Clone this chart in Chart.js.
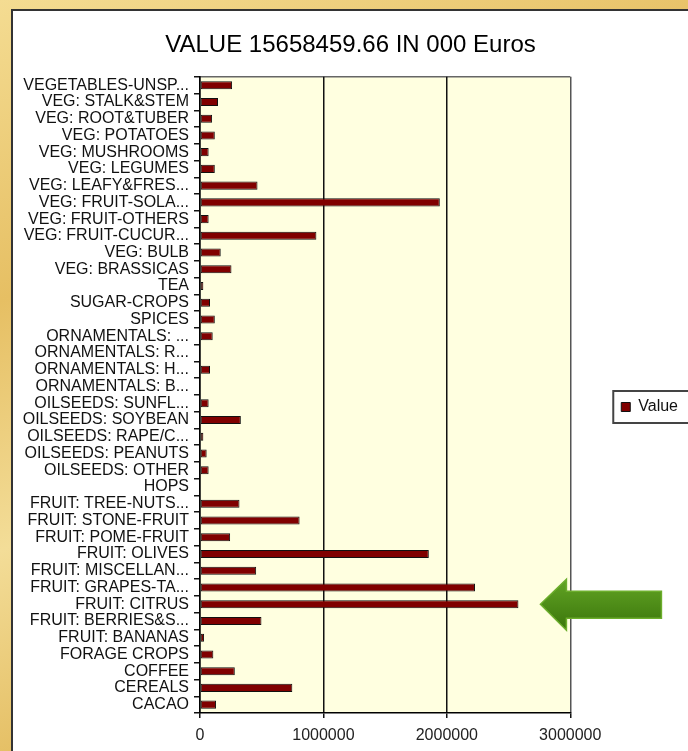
<!DOCTYPE html>
<html>
<head>
<meta charset="utf-8">
<title>VALUE 15658459.66 IN 000 Euros</title>
<script src="https://cdn.jsdelivr.net/npm/chart.js@4.4.1/dist/chart.umd.min.js"></script>
<style>
  html, body { margin: 0; padding: 0; width: 688px; height: 751px; overflow: hidden; }
  body { background: linear-gradient(160deg, #f4dc92 0%, #e6bf63 30%, #f3dd98 55%, #e2b95a 80%, #f0d488 100%); position: relative; }
  .panel { position: absolute; left: 11px; top: 9px; width: 700px; height: 760px; background: #fff; border-left: 2px solid #333; border-top: 2px solid #333; }
  .panel canvas { position: absolute; left: 0; top: 0; }
</style>
</head>
<body>
<div class="panel"><canvas id="cropChart" width="675" height="740"></canvas></div>
<script>
const FONT = '"Liberation Sans", Arial, sans-serif';

// categories, top to bottom as in the picture
const cropNames = [
  'VEGETABLES-UNSP...', 'VEG: STALK&STEM', 'VEG: ROOT&TUBER', 'VEG: POTATOES', 'VEG: MUSHROOMS',
  'VEG: LEGUMES', 'VEG: LEAFY&FRES...', 'VEG: FRUIT-SOLA...', 'VEG: FRUIT-OTHERS', 'VEG: FRUIT-CUCUR...',
  'VEG: BULB', 'VEG: BRASSICAS', 'TEA', 'SUGAR-CROPS', 'SPICES',
  'ORNAMENTALS: ...', 'ORNAMENTALS: R...', 'ORNAMENTALS: H...', 'ORNAMENTALS: B...', 'OILSEEDS: SUNFL...',
  'OILSEEDS: SOYBEAN', 'OILSEEDS: RAPE/C...', 'OILSEEDS: PEANUTS', 'OILSEEDS: OTHER', 'HOPS',
  'FRUIT: TREE-NUTS...', 'FRUIT: STONE-FRUIT', 'FRUIT: POME-FRUIT', 'FRUIT: OLIVES', 'FRUIT: MISCELLAN...',
  'FRUIT: GRAPES-TA...', 'FRUIT: CITRUS', 'FRUIT: BERRIES&S...', 'FRUIT: BANANAS', 'FORAGE CROPS',
  'COFFEE', 'CEREALS', 'CACAO'
];

// value in 000 euros
const cropValues = [
  260000, 146000, 98000, 120000, 70000,
  120000, 466000, 1943000, 70000, 943000,
  168000, 255000, 27000, 81000, 120000,
  103000, 0, 81000, 0, 70000,
  331000, 27000, 54000, 70000, 0,
  320000, 807000, 244000, 1854000, 455000,
  2228000, 2580000, 498000, 33000, 108000,
  282000, 748000, 130000
];

const xTickLabels = ['0', '1000000', '2000000', '3000000'];
const seriesName = 'Value';
const chartTitle = 'VALUE 15658459.66 IN 000 Euros';
const highlighted = 'FRUIT: CITRUS';

// cream plot area with grey top edge
const plotBackground = {
  id: 'plotBackground',
  beforeDraw(chart) {
    const { ctx, chartArea: a } = chart;
    ctx.save();
    ctx.fillStyle = '#FFFFE0';
    ctx.fillRect(a.left, a.top, a.width, a.height);
    ctx.strokeStyle = '#666';
    ctx.lineWidth = 1.5;
    ctx.beginPath();
    ctx.moveTo(a.left, a.top);
    ctx.lineTo(a.right, a.top);
    ctx.stroke();
    ctx.restore();
  }
};

// legend sits a bit below the middle, framed; green arrow points at citrus
const extras = {
  id: 'extras',
  afterLayout(chart) {
    chart.legend.top += 26;
    chart.legend.bottom += 26;
  },
  afterDraw(chart) {
    const { ctx } = chart;
    const hit = chart.legend.legendHitBoxes[0];
    ctx.save();
    if (hit) {
      ctx.strokeStyle = '#444';
      ctx.lineWidth = 2;
      ctx.strokeRect(hit.left - 8, hit.top - 8, 200, hit.height + 16);
    }

    const i = cropNames.indexOf(highlighted);
    const tipX = chart.scales.x.getPixelForValue(cropValues[i]) + 22;
    const tipY = chart.scales.y.getPixelForValue(i);
    const g = ctx.createLinearGradient(0, tipY - 25, 0, tipY + 25);
    g.addColorStop(0, '#62a424');
    g.addColorStop(1, '#3b760c');
    ctx.fillStyle = g;
    ctx.strokeStyle = '#6cae2c';
    ctx.lineWidth = 1.5;
    ctx.beginPath();
    ctx.moveTo(tipX, tipY);
    ctx.lineTo(tipX + 26, tipY - 25);
    ctx.lineTo(tipX + 26, tipY - 13);
    ctx.lineTo(tipX + 121, tipY - 13);
    ctx.lineTo(tipX + 121, tipY + 14);
    ctx.lineTo(tipX + 26, tipY + 14);
    ctx.lineTo(tipX + 26, tipY + 26);
    ctx.closePath();
    ctx.fill();
    ctx.stroke();
    ctx.restore();
  }
};

new Chart(document.getElementById('cropChart').getContext('2d'), {
  type: 'bar',
  data: {
    labels: cropNames,
    datasets: [{
      label: seriesName,
      data: cropValues,
      backgroundColor: '#800000',
      borderColor: '#111',
      borderWidth: 1,
      borderSkipped: false,
      barPercentage: 0.48,
      categoryPercentage: 1
    }]
  },
  plugins: [plotBackground, extras],
  options: {
    indexAxis: 'y',
    responsive: false,
    animation: false,
    layout: { padding: { left: 0, right: 0, top: 0, bottom: 0 } },
    plugins: {
      title: {
        display: true,
        text: chartTitle,
        color: '#000',
        font: { family: FONT, size: 24, weight: 'normal' },
        padding: { top: 20, bottom: 17 }
      },
      legend: {
        position: 'right',
        labels: {
          color: '#111',
          font: { family: FONT, size: 16 },
          boxWidth: 9,
          boxHeight: 9,
          padding: 51
        }
      },
      tooltip: { enabled: false }
    },
    scales: {
      x: {
        min: 0,
        max: 3000000,
        afterFit: s => { s.height = 38; },
        ticks: {
          stepSize: 1000000,
          color: '#222',
          font: { family: FONT, size: 16 },
          padding: 8,
          callback: (v, i) => xTickLabels[i]
        },
        grid: {
          color: c => (c.tick && c.tick.value === 3000000 ? '#555' : '#111'),
          lineWidth: 1.5,
          tickLength: 5,
          tickColor: '#111'
        },
        border: { color: '#000', width: 1.5 }
      },
      y: {
        afterFit: s => { s.width = 187; },
        ticks: {
          autoSkip: false,
          color: '#111',
          font: { family: FONT, size: 16, lineHeight: 1 },
          padding: 5
        },
        grid: {
          drawOnChartArea: false,
          tickLength: 6,
          color: '#111',
          lineWidth: 1.5
        },
        border: { color: '#000', width: 1.5 }
      }
    }
  }
});
</script>
</body>
</html>
